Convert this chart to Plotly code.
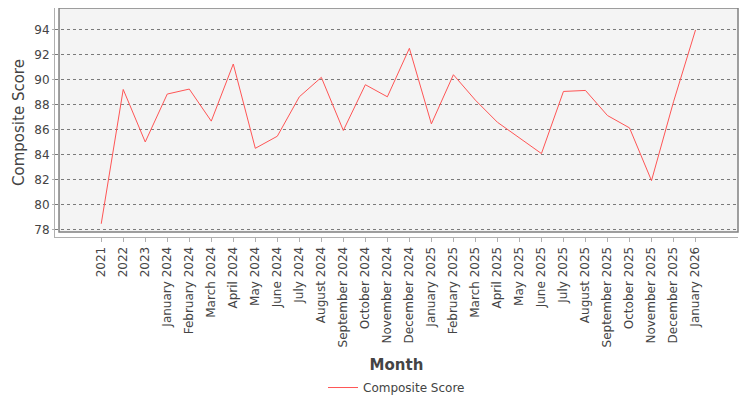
import plotly.graph_objects as go

# category labels and composite score values
months = [
    "2021", "2022", "2023",
    "January 2024", "February 2024", "March 2024", "April 2024", "May 2024",
    "June 2024", "July 2024", "August 2024", "September 2024", "October 2024",
    "November 2024", "December 2024", "January 2025", "February 2025",
    "March 2025", "April 2025", "May 2025", "June 2025", "July 2025",
    "August 2025", "September 2025", "October 2025", "November 2025",
    "December 2025", "January 2026",
]
scores = [
    78.46, 89.23, 85.02, 88.86, 89.26, 86.69, 91.27, 84.51, 85.48, 88.64,
    90.20, 85.94, 89.61, 88.64, 92.53, 86.47, 90.41, 88.37, 86.60, 85.34,
    84.09, 89.07, 89.15, 87.14, 86.15, 81.92, 88.24, 94.00,
]
y_ticks = [78, 80, 82, 84, 86, 88, 90, 92, 94]

idx = list(range(len(months)))
FONT = "DejaVu Sans"

fig = go.Figure()
fig.add_trace(go.Scatter(
    x=idx, y=scores, mode="lines", name="Composite Score",
    line=dict(color="#ff5555", width=1),
))

# plot background panel with border (axis lines sit slightly outside, like JFreeChart)
fig.add_shape(
    type="rect", xref="paper", yref="paper",
    x0=0.0059, x1=1.0, y0=0.022, y1=1.0,
    fillcolor="#f4f4f4", line=dict(color="#808080", width=1.5),
    layer="below",
)

# the page body has an 8px margin, so the figure is shifted/sized to compensate
fig.update_layout(
    width=734, height=400,
    margin=dict(l=47, r=4, t=0, b=171),
    paper_bgcolor="white",
    plot_bgcolor="white",
    font=dict(family=FONT, size=12, color="#444444"),
    showlegend=True,
    legend=dict(
        orientation="h", x=0.5, xanchor="center", y=-0.594, yanchor="top",
        font=dict(family=FONT, size=12, color="#444444"),
    ),
    xaxis=dict(
        range=[-2.10, 28.93],
        automargin=False,
        tickmode="array", tickvals=idx, ticktext=months,
        tickangle=-90,
        showgrid=False, zeroline=False,
        showline=True, linecolor="#b0b0b0", linewidth=1,
        ticks="outside", ticklen=4, tickcolor="#b0b0b0",
        tickfont=dict(family=FONT, size=12, color="#444444"),
        title=dict(text="<b>Month</b>", font=dict(family=FONT, size=15, color="#444444"),
                   standoff=13),
    ),
    yaxis=dict(
        range=[77.40, 95.76],
        automargin=False,
        tickmode="array", tickvals=y_ticks,
        showgrid=True, gridcolor="#7a7a7a", griddash="dot", gridwidth=1,
        zeroline=False,
        showline=True, linecolor="#b0b0b0", linewidth=1,
        ticks="outside", ticklen=2, tickcolor="#b0b0b0",
        tickfont=dict(family=FONT, size=12, color="#444444"),
        title=dict(text="Composite Score",
                   font=dict(family=FONT, size=15, color="#444444"), standoff=6),
    ),
)

fig.write_html("out.html")
